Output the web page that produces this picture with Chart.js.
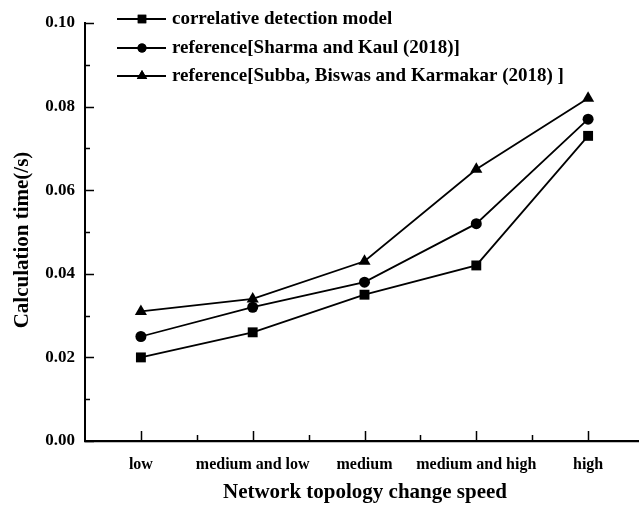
<!DOCTYPE html>
<html lang="en">
<head>
  <meta charset="UTF-8" />
  <title>Calculation time vs network topology change speed</title>
  <script src="https://cdn.jsdelivr.net/npm/chart.js"></script>
  <style>
    html, body {
      margin: 0;
      padding: 0;
      background: #ffffff;
      overflow: hidden;
    }
    .wrap {
      position: relative;
      width: 651px;
      height: 506px;
    }
  </style>
</head>
<body>
  <div class="wrap">
    <canvas id="lineChart"></canvas>
  </div>

  <script>
    const categories = ["low", "medium and low", "medium", "medium and high", "high"];
    const correlativeModel = [0.020, 0.026, 0.035, 0.042, 0.073];
    const sharmaKaul = [0.025, 0.032, 0.038, 0.052, 0.077];
    const subbaBiswas = [0.031, 0.034, 0.043, 0.065, 0.082];
    const seriesNames = [
      "correlative detection model",
      "reference[Sharma and Kaul (2018)]",
      "reference[Subba, Biswas and Karmakar (2018) ]"
    ];
    const yTicks = [0, 0.02, 0.04, 0.06, 0.08, 0.10];

    const FONT = "'Liberation Serif', 'Times New Roman', serif";

    // ticks point inward, titles and legend drawn by hand like the original figure
    const figureExtras = {
      id: 'figureExtras',
      afterDraw(chart) {
        const { ctx, chartArea: a, scales: { x, y } } = chart;
        ctx.save();
        ctx.strokeStyle = '#000';
        ctx.lineWidth = 1.5;
        ctx.beginPath();
        for (let v = 0; v <= 10; v++) {
          const py = Math.round(y.getPixelForValue(v / 100)) + 0.5;
          const len = v % 2 === 0 ? 9 : 5;
          ctx.moveTo(a.left, py);
          ctx.lineTo(a.left + len, py);
        }
        for (let i = 0; i < categories.length; i++) {
          const px = Math.round(x.getPixelForValue(i)) + 0.5;
          ctx.moveTo(px, a.bottom);
          ctx.lineTo(px, a.bottom - 10);
          if (i < categories.length - 1) {
            const mx = Math.round((x.getPixelForValue(i) + x.getPixelForValue(i + 1)) / 2) + 0.5;
            ctx.moveTo(mx, a.bottom);
            ctx.lineTo(mx, a.bottom - 6);
          }
        }
        ctx.stroke();

        // axis titles
        ctx.fillStyle = '#000';
        ctx.font = "bold 21px " + FONT;
        ctx.textAlign = 'center';
        ctx.textBaseline = 'middle';
        ctx.fillText("Network topology change speed", 365, 493);
        ctx.save();
        ctx.translate(23, 240);
        ctx.rotate(-Math.PI / 2);
        ctx.fillText("Calculation time(/s)", 0, 0);
        ctx.restore();

        // legend
        const rows = [19, 48, 76];
        ctx.font = "bold 19px " + FONT;
        ctx.textAlign = 'left';
        chart.data.datasets.forEach((ds, i) => {
          const ly = rows[i];
          ctx.beginPath();
          ctx.lineWidth = 1.8;
          ctx.moveTo(117, ly);
          ctx.lineTo(166, ly);
          ctx.stroke();
          Chart.helpers.drawPoint(ctx, {
            pointStyle: ds.pointStyle,
            radius: ds.pointRadius - 1,
            rotation: 0,
            borderWidth: 0
          }, 142, ly);
          ctx.fill();
          ctx.fillText(ds.label, 172, ly);
        });
        ctx.restore();
      }
    };

    function makeSet(label, data, style, radius) {
      return {
        label: label,
        data: data,
        borderColor: '#000',
        backgroundColor: '#000',
        borderWidth: 1.8,
        pointStyle: style,
        pointRadius: radius,
        pointBorderWidth: 0,
        pointBackgroundColor: '#000',
        tension: 0
      };
    }

    window.onload = function () {
      const ctx = document.getElementById('lineChart').getContext('2d');
      new Chart(ctx, {
        type: 'line',
        data: {
          labels: categories,
          datasets: [
            makeSet(seriesNames[0], correlativeModel, 'rect', 7),
            makeSet(seriesNames[1], sharmaKaul, 'circle', 5.5),
            makeSet(seriesNames[2], subbaBiswas, 'triangle', 7)
          ]
        },
        options: {
          responsive: true,
          maintainAspectRatio: false,
          animation: false,
          layout: { padding: { top: 23, right: 2, left: 0, bottom: 0 } },
          plugins: {
            legend: { display: false },
            tooltip: { enabled: false }
          },
          scales: {
            x: {
              offset: true,
              grid: { display: false, drawTicks: false },
              border: { display: true, color: '#000', width: 2.2 },
              ticks: {
                color: '#000',
                padding: 14,
                maxRotation: 0,
                autoSkip: false,
                font: { family: FONT, size: 16, weight: 'bold' }
              },
              afterFit(scale) { scale.height = 65; }
            },
            y: {
              min: 0,
              max: 0.1,
              afterBuildTicks(scale) {
                scale.ticks = yTicks.map(v => ({ value: v }));
              },
              grid: { display: false, drawTicks: false },
              border: { display: true, color: '#000', width: 2 },
              ticks: {
                color: '#000',
                padding: 10,
                font: { family: FONT, size: 17, weight: 'bold' },
                callback: v => Number(v).toFixed(2)
              },
              afterFit(scale) { scale.width = 85; }
            }
          }
        },
        plugins: [figureExtras]
      });
    };
  </script>
</body>
</html>
